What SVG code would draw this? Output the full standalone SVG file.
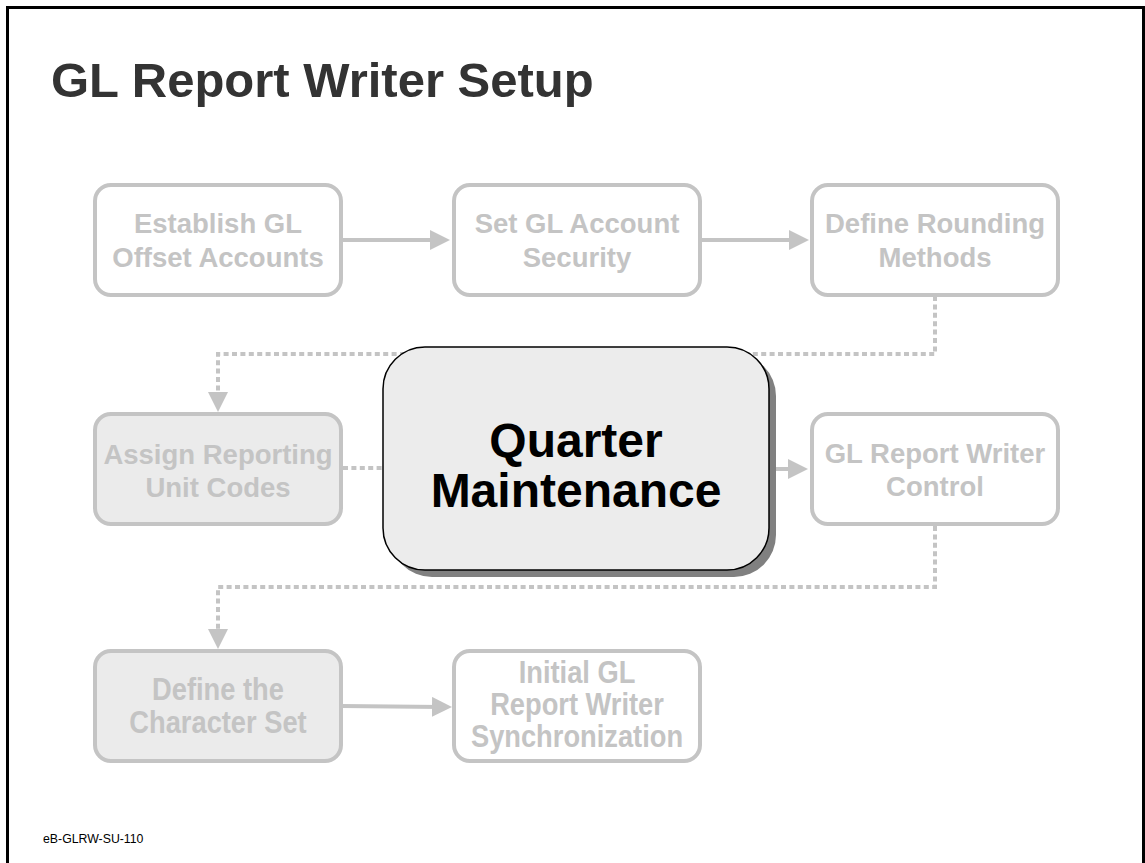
<svg xmlns="http://www.w3.org/2000/svg" width="1145" height="863" viewBox="0 0 1145 863">
<style>
.node rect{fill:#ffffff;stroke:#c4c4c4;stroke-width:4}
.node.shaded rect{fill:#ebebeb}
.lbl{font-family:"Liberation Sans",Arial,sans-serif;font-weight:bold;font-size:27.5px;fill:#c4c4c4;text-anchor:middle}
.nar{font-family:"Liberation Sans",Arial,sans-serif;font-weight:bold;font-size:31px;fill:#c4c4c4;text-anchor:middle}
.solid{stroke:#c4c4c4;stroke-width:4;fill:none}
.dot{stroke:#c4c4c4;stroke-width:4;fill:none;stroke-dasharray:5 3.4}
</style>
<defs>
<marker id="ah" viewBox="0 0 20 20" refX="10" refY="10" markerWidth="20" markerHeight="20" markerUnits="userSpaceOnUse" orient="auto">
<path d="M0,0 L20,10 L0,20 z" fill="#c4c4c4"/>
</marker>
</defs>
<rect x="0" y="0" width="1145" height="863" fill="#ffffff"/>
<rect x="7.5" y="7.5" width="1136" height="870" fill="none" stroke="#000000" stroke-width="3"/>
<text x="51" y="97" font-family="Liberation Sans,Arial,sans-serif" font-weight="bold" font-size="49" fill="#333333">GL Report Writer Setup</text>
<g id="connectors">
<line class="solid" x1="341" y1="240" x2="440" y2="240" marker-end="url(#ah)"/>
<line class="solid" x1="700" y1="240" x2="799" y2="240" marker-end="url(#ah)"/>
<polyline class="dot" points="935,296 935,354 218,354 218,402" marker-end="url(#ah)"/>
<line class="dot" x1="343" y1="468" x2="385" y2="468"/>
<line class="solid" x1="776" y1="469" x2="798" y2="469" marker-end="url(#ah)"/>
<polyline class="dot" points="935,526 935,587 218,587 218,639" marker-end="url(#ah)"/>
<line class="solid" x1="341" y1="706" x2="442" y2="707" marker-end="url(#ah)"/>
</g>
<g id="n1" class="node"><rect x="95" y="185" width="246" height="110" rx="16"/><text class="lbl" x="218" y="233">Establish GL</text><text class="lbl" x="218" y="267">Offset Accounts</text></g>
<g id="n2" class="node"><rect x="454" y="185" width="246" height="110" rx="16"/><text class="lbl" x="577" y="233">Set GL Account</text><text class="lbl" x="577" y="267">Security</text></g>
<g id="n3" class="node"><rect x="812" y="185" width="246" height="110" rx="16"/><text class="lbl" x="935" y="233">Define Rounding</text><text class="lbl" x="935" y="267">Methods</text></g>
<g id="n4" class="node shaded"><rect x="95" y="414" width="246" height="110" rx="16"/><text class="lbl" x="218" y="464">Assign Reporting</text><text class="lbl" x="218" y="497">Unit Codes</text></g>
<g id="n6" class="node"><rect x="812" y="414" width="246" height="110" rx="16"/><text class="lbl" x="935" y="463">GL Report Writer</text><text class="lbl" x="935" y="496">Control</text></g>
<g id="n7" class="node shaded"><rect x="95" y="651" width="246" height="110" rx="16"/><g transform="translate(218,0) scale(0.88,1)"><text class="nar" x="0" y="700">Define the</text><text class="nar" x="0" y="733">Character Set</text></g></g>
<g id="n8" class="node"><rect x="454" y="651" width="246" height="110" rx="16"/><g transform="translate(577,0) scale(0.88,1)"><text class="nar" x="0" y="683">Initial GL</text><text class="nar" x="0" y="715">Report Writer</text><text class="nar" x="0" y="747">Synchronization</text></g></g>
<g id="n5">
<rect x="390" y="354" width="386" height="223" rx="42" fill="#808080"/>
<rect x="383" y="347" width="386" height="223" rx="42" fill="#ececec" stroke="#000000" stroke-width="1.5"/>
<text x="576" y="457" font-family="Liberation Sans,Arial,sans-serif" font-weight="bold" font-size="48" fill="#000000" text-anchor="middle">Quarter</text>
<text x="576" y="507" font-family="Liberation Sans,Arial,sans-serif" font-weight="bold" font-size="48" fill="#000000" text-anchor="middle">Maintenance</text>
</g>
<text x="43" y="843" font-family="Liberation Sans,Arial,sans-serif" font-size="12.3" fill="#000000">eB-GLRW-SU-110</text>
</svg>
